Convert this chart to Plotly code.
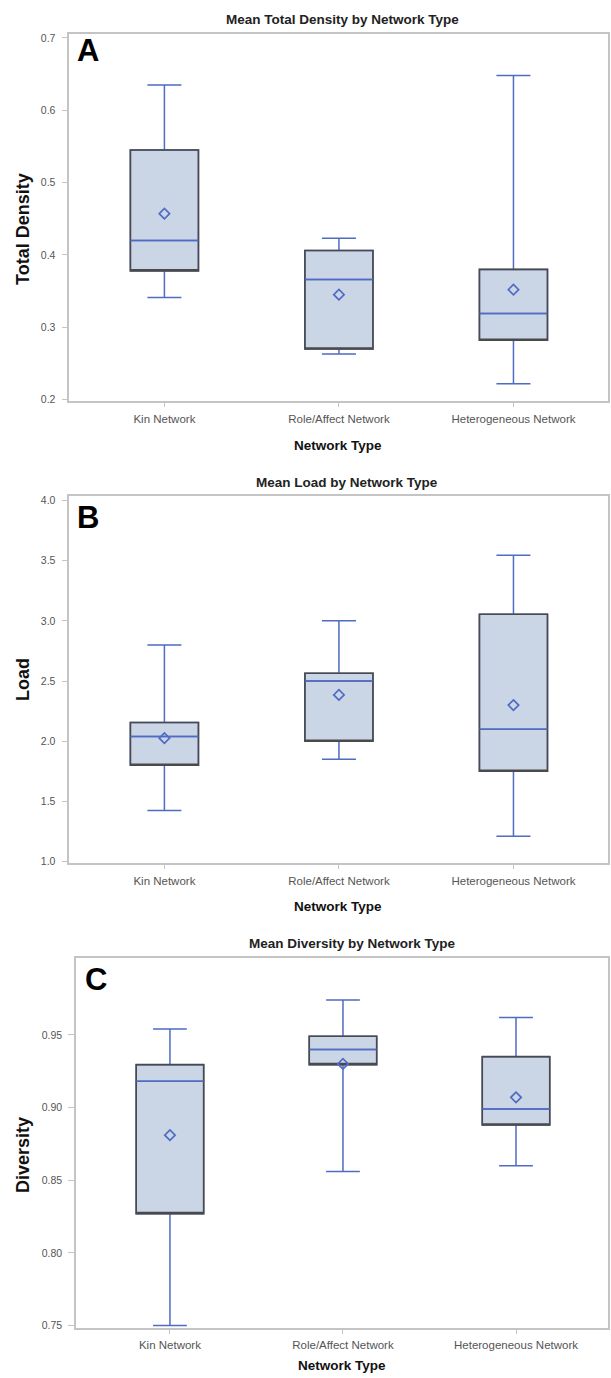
import plotly.graph_objects as go

# ---------------- data ----------------
categories = ["Kin Network", "Role/Affect Network", "Heterogeneous Network"]

density_lower = [0.341, 0.263, 0.222]
density_q1 = [0.378, 0.270, 0.282]
density_median = [0.420, 0.366, 0.319]
density_q3 = [0.545, 0.406, 0.380]
density_upper = [0.635, 0.423, 0.648]
density_mean = [0.457, 0.345, 0.352]
density_ticks = [0.2, 0.3, 0.4, 0.5, 0.6, 0.7]

load_lower = [1.425, 1.85, 1.21]
load_q1 = [1.80, 2.00, 1.75]
load_median = [2.04, 2.50, 2.10]
load_q3 = [2.155, 2.565, 3.055]
load_upper = [2.80, 3.00, 3.545]
load_mean = [2.025, 2.385, 2.30]
load_ticks = [1.0, 1.5, 2.0, 2.5, 3.0, 3.5, 4.0]

div_lower = [0.750, 0.856, 0.860]
div_q1 = [0.827, 0.9295, 0.888]
div_median = [0.918, 0.940, 0.899]
div_q3 = [0.9295, 0.949, 0.935]
div_upper = [0.954, 0.974, 0.962]
div_mean = [0.881, 0.930, 0.907]
div_ticks = [0.75, 0.80, 0.85, 0.90, 0.95]

# ---------------- style ----------------
W, H = 611, 1378
FILL = "#cad5e6"
BLUE = "#4f6bc4"
OUTLINE = "#4a4a4a"
FRAME = "#c4c4c4"
TICKC = "#555555"
FONT = "Liberation Sans, Arial, sans-serif"
BOXW = 0.39


def px(x):
    return x / W


def py(y):
    return 1 - y / H


panels = [
    dict(name="A", title="Mean Total Density by Network Type", ytitle="Total Density",
         lower=density_lower, q1=density_q1, med=density_median, q3=density_q3,
         upper=density_upper, mean=density_mean, ticks=density_ticks, fmt="{:.1f}",
         x0=69.3, x1=607.7, y0=31.7, y1=401.0, yr=[0.1977, 0.706], xr=[-0.545, 2.54],
         ty=17.5, tx=342, xty=445, yty=228, lx=75, ly=29),
    dict(name="B", title="Mean Load by Network Type", ytitle="Load",
         lower=load_lower, q1=load_q1, med=load_median, q3=load_q3,
         upper=load_upper, mean=load_mean, ticks=load_ticks, fmt="{:.1f}",
         x0=69.3, x1=607.7, y0=496.0, y1=865.0, yr=[0.986, 4.039], xr=[-0.545, 2.54],
         ty=482.5, tx=347, xty=908, yty=681, lx=75, ly=498),
    dict(name="C", title="Mean Diversity by Network Type", ytitle="Diversity",
         lower=div_lower, q1=div_q1, med=div_median, q3=div_q3,
         upper=div_upper, mean=div_mean, ticks=div_ticks, fmt="{:.2f}",
         x0=76.0, x1=607.7, y0=960.0, y1=1331.7, yr=[0.7484, 1.003], xr=[-0.543, 2.53],
         ty=946, tx=352, xty=1369.5, yty=1158, lx=83, ly=962),
]

fig = go.Figure()
annotations = []
layout_axes = {}

for i, p in enumerate(panels):
    n = "" if i == 0 else str(i + 1)
    xa, ya = "x" + n, "y" + n
    # main box (blue whiskers, median, edges)
    fig.add_trace(go.Box(
        x=categories, q1=p["q1"], median=p["med"], q3=p["q3"],
        lowerfence=p["lower"], upperfence=p["upper"],
        width=BOXW, whiskerwidth=0.5, fillcolor=FILL,
        line=dict(color=BLUE, width=1.5), boxpoints=False,
        xaxis=xa, yaxis=ya, hoverinfo="skip", showlegend=False))
    # dark box outline on top
    fig.add_trace(go.Box(
        x=categories, q1=p["q1"], median=p["q1"], q3=p["q3"],
        lowerfence=p["q1"], upperfence=p["q3"],
        width=BOXW, whiskerwidth=0, fillcolor="rgba(0,0,0,0)",
        line=dict(color=OUTLINE, width=1.6), boxpoints=False,
        xaxis=xa, yaxis=ya, hoverinfo="skip", showlegend=False))
    # blue median line on top of outline
    fig.add_trace(go.Box(
        x=categories, q1=p["med"], median=p["med"], q3=p["med"],
        lowerfence=p["med"], upperfence=p["med"],
        width=BOXW, whiskerwidth=0, fillcolor="rgba(0,0,0,0)",
        line=dict(color=BLUE, width=1.5), boxpoints=False,
        xaxis=xa, yaxis=ya, hoverinfo="skip", showlegend=False))
    # mean markers
    fig.add_trace(go.Scatter(
        x=categories, y=p["mean"], mode="markers",
        marker=dict(symbol="diamond-open", size=8, color=BLUE, line=dict(width=1.7, color=BLUE)),
        xaxis=xa, yaxis=ya, hoverinfo="skip", showlegend=False))

    layout_axes["xaxis" + n] = dict(
        domain=[px(p["x0"]), px(p["x1"])], anchor=ya, type="category",
        categoryorder="array", categoryarray=categories, range=p["xr"],
        showline=True, linecolor=FRAME, linewidth=1.5, mirror=True,
        ticks="outside", ticklen=4, tickcolor=FRAME, tickwidth=1,
        ticklabelstandoff=2,
        tickfont=dict(family=FONT, size=11.5, color=TICKC),
        showgrid=False, zeroline=False, fixedrange=True)
    layout_axes["yaxis" + n] = dict(
        domain=[py(p["y1"]), py(p["y0"])], anchor=xa, range=p["yr"],
        tickvals=p["ticks"], ticktext=[p["fmt"].format(v) for v in p["ticks"]],
        showline=True, linecolor=FRAME, linewidth=1.5, mirror=True,
        ticks="outside", ticklen=6, tickcolor=FRAME, tickwidth=1,
        ticklabelstandoff=4,
        tickfont=dict(family=FONT, size=10.5, color=TICKC),
        showgrid=False, zeroline=False, fixedrange=True)

    annotations.append(dict(
        text="<b>" + p["title"] + "</b>", x=px(p["tx"]), y=py(p["ty"]),
        xref="paper", yref="paper", xanchor="center", yanchor="middle",
        showarrow=False, font=dict(family=FONT, size=13.5, color="#222222")))
    annotations.append(dict(
        text="<b>Network Type</b>", x=px((p["x0"] + p["x1"]) / 2), y=py(p["xty"]),
        xref="paper", yref="paper", xanchor="center", yanchor="middle",
        showarrow=False, font=dict(family=FONT, size=13.5, color="#111111")))
    annotations.append(dict(
        text="<b>" + p["ytitle"] + "</b>", x=px(23), y=py(p["yty"]),
        xref="paper", yref="paper", xanchor="center", yanchor="middle",
        textangle=-90, showarrow=False, font=dict(family=FONT, size=18, color="#111111")))
    annotations.append(dict(
        text="<b>" + p["name"] + "</b>", x=px(p["lx"]), y=py(p["ly"]),
        xref="paper", yref="paper", xanchor="left", yanchor="top",
        showarrow=False, font=dict(family=FONT, size=31, color="#000000")))

fig.update_layout(
    width=W, height=H, margin=dict(l=0, r=0, t=0, b=0),
    paper_bgcolor="white", plot_bgcolor="white",
    boxmode="overlay", showlegend=False,
    annotations=annotations, **layout_axes)

fig.write_html(
    "out.html",
    config={"displayModeBar": False},
    post_script="document.body.style.margin='0';document.body.style.overflow='hidden';",
)
